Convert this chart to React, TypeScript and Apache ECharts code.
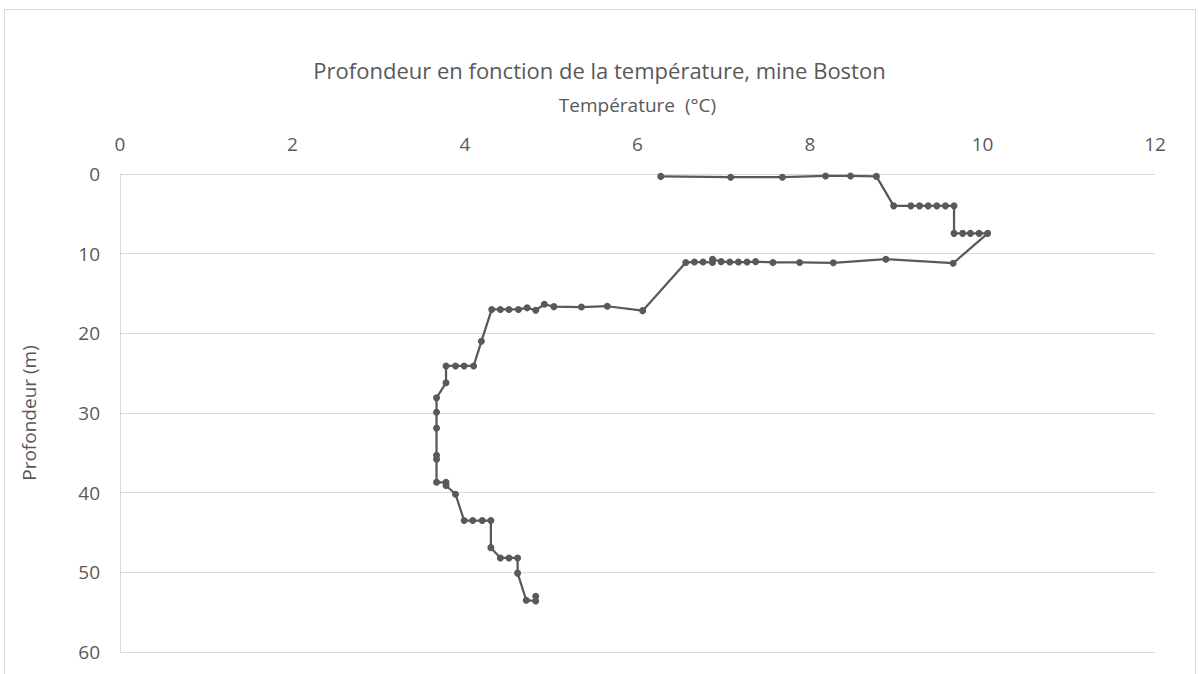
import React, { useEffect, useRef } from "react";
import * as echarts from "echarts";

const temperature: number[] = [
  6.27, 7.08, 7.68, 8.18, 8.47, 8.77,
  8.97, 9.17, 9.27, 9.37, 9.47, 9.57, 9.67,
  9.67, 9.77, 9.86, 9.96, 10.06,
  9.66, 8.88, 8.27, 7.88, 7.57, 7.37, 7.27, 7.17, 7.07, 6.97, 6.87, 6.87, 6.76, 6.66, 6.56,
  6.06, 5.65, 5.35, 5.03, 4.92, 4.82, 4.72, 4.62, 4.51, 4.41, 4.31,
  4.19, 4.1, 3.99, 3.89, 3.78, 3.78, 3.67, 3.67, 3.67, 3.67, 3.67, 3.67,
  3.78, 3.78, 3.89, 3.99, 4.09, 4.2, 4.3, 4.3, 4.41, 4.51, 4.61, 4.61,
  4.71, 4.82, 4.82,
];

const depth: number[] = [
  0.3, 0.4, 0.4, 0.25, 0.25, 0.3,
  4.0, 4.0, 4.0, 4.0, 4.0, 4.0, 4.0,
  7.45, 7.45, 7.45, 7.45, 7.45,
  11.2, 10.7, 11.15, 11.1, 11.1, 11.0, 11.05, 11.05, 11.05, 11.0, 10.7, 11.1, 11.05, 11.05, 11.1,
  17.15, 16.6, 16.7, 16.65, 16.35, 17.1, 16.8, 17.0, 17.0, 17.0, 17.0,
  21.0, 24.1, 24.1, 24.1, 24.1, 26.2, 28.1, 29.9, 31.9, 35.3, 35.8, 38.7,
  38.7, 39.1, 40.2, 43.5, 43.5, 43.5, 43.5, 46.9, 48.2, 48.2, 48.2, 50.1,
  53.5, 53.6, 53.0,
];

const TEXT = "#595959";
const GRID = "#d9d9d9";
const FONT = "'Open Sans', Roboto, sans-serif";

export default function App() {
  const ref = useRef<HTMLDivElement>(null);
  useEffect(() => {
    if (!ref.current) return;
    const chart = echarts.init(ref.current, undefined, { renderer: "svg" });
    const data = temperature.map((t, i) => [t, depth[i]]);
    chart.setOption({
      animation: false,
      backgroundColor: "#ffffff",
      textStyle: { fontFamily: FONT },
      title: {
        text: "Profondeur en fonction de la température, mine Boston",
        left: "center",
        top: 54,
        textStyle: { color: TEXT, fontSize: 22, fontWeight: "normal", fontFamily: FONT },
      },
      graphic: [
        {
          type: "rect",
          shape: { x: 4.5, y: 9.5, width: 1191, height: 700 },
          style: { fill: "none", stroke: GRID, lineWidth: 1 },
          silent: true,
        },
      ],
      grid: { left: 120, right: 44, top: 174, bottom: 22, containLabel: false },
      xAxis: {
        type: "value",
        position: "top",
        min: 0,
        max: 12,
        interval: 2,
        name: "Température  (°C)",
        nameLocation: "middle",
        nameGap: 60,
        nameTextStyle: { color: TEXT, fontSize: 19, fontFamily: FONT },
        axisLine: { show: false },
        axisTick: { show: false },
        splitLine: { show: false },
        axisLabel: { color: TEXT, fontSize: 19, margin: 21, fontFamily: FONT },
      },
      yAxis: {
        type: "value",
        inverse: true,
        min: 0,
        max: 60,
        interval: 10,
        name: "Profondeur (m)",
        nameLocation: "middle",
        nameRotate: 90,
        nameGap: 82,
        nameTextStyle: { color: TEXT, fontSize: 19, fontFamily: FONT },
        axisLine: { show: true, lineStyle: { color: GRID, width: 1 } },
        axisTick: { show: false },
        splitLine: { show: true, lineStyle: { color: GRID, width: 1 } },
        axisLabel: { color: TEXT, fontSize: 19, margin: 20, fontFamily: FONT },
      },
      series: [
        {
          type: "line",
          data,
          symbol: "circle",
          symbolSize: 7,
          showSymbol: true,
          lineStyle: { color: TEXT, width: 2.25 },
          itemStyle: { color: TEXT },
          emphasis: { disabled: true },
        },
      ],
    });
    return () => chart.dispose();
  }, []);
  return (
    <div
      ref={ref}
      style={{ position: "fixed", left: 0, top: 0, width: 1199, height: 674 }}
    />
  );
}
